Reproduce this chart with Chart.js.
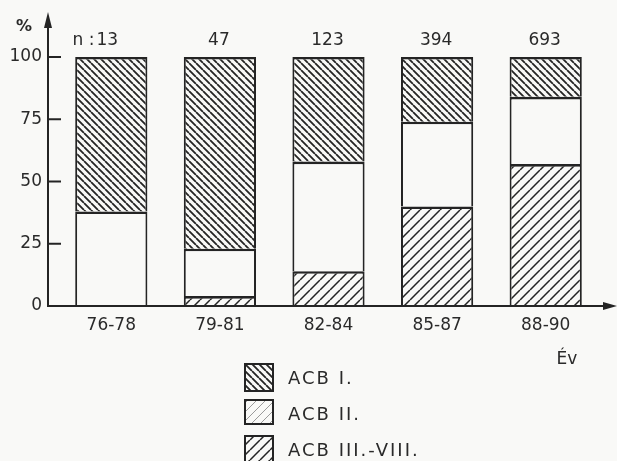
<!DOCTYPE html>
<html>
<head>
<meta charset="utf-8">
<script src="https://cdn.jsdelivr.net/npm/chart.js@4/dist/chart.umd.min.js"></script>
<style>
  html, body { margin: 0; padding: 0; background: #f9f9f7; }
  #c { display: block; }
</style>
</head>
<body>
<canvas id="c" width="617" height="461"></canvas>
<script>
// Periods on the x axis
const periods = ['76-78', '79-81', '82-84', '85-87', '88-90'];
// Number of cases in each period (printed above the bars)
const nCounts = ['13', '47', '123', '394', '693'];
// Share of each ACB group, % (stacked bottom to top: III.-VIII., II., I.)
const acb3to8 = [0, 4, 14, 40, 57];
const acb2 = [38, 19, 44, 34, 27];
const acb1 = [62, 77, 42, 26, 16];
// Y axis ticks
const yTicks = [0, 25, 50, 75, 100];

const INK = '#242424';
const TXT = '#2a2a2a';
const BG = '#f9f9f7';
const FONT = '"DejaVu Sans", sans-serif';

function hatch(step, dir, lw, color, bg) {
  const t = document.createElement('canvas');
  t.width = step; t.height = step;
  const g = t.getContext('2d');
  g.fillStyle = bg; g.fillRect(0, 0, step, step);
  g.strokeStyle = color; g.lineWidth = lw;
  g.beginPath();
  if (dir === 'back') {
    for (let k = -1; k <= 1; k++) { g.moveTo(k * step, 0); g.lineTo(k * step + step, step); }
  } else {
    for (let k = -1; k <= 1; k++) { g.moveTo(k * step, step); g.lineTo(k * step + step, 0); }
  }
  g.stroke();
  return g.createPattern(t, 'repeat');
}

const ctx0 = document.getElementById('c').getContext('2d');
const patDense = hatch(7, 'back', 1.8, INK, BG);
const patWide = hatch(10, 'fwd', 1.5, INK, BG);
const patFaint = hatch(9, 'fwd', 1, '#9a9a9a', BG);

const axesPlugin = {
  id: 'axesAndNotes',
  beforeDraw(chart) {
    const c = chart.ctx;
    c.save();
    c.fillStyle = BG;
    c.fillRect(0, 0, chart.width, chart.height);
    c.restore();
  },
  afterDatasetsDraw(chart) {
    const c = chart.ctx;
    const ys = chart.scales.y, xs = chart.scales.x;
    const y0 = ys.getPixelForValue(0);
    const axX = 48;
    c.save();
    c.strokeStyle = INK; c.fillStyle = INK; c.lineWidth = 2;
    // y axis with arrow
    c.beginPath(); c.moveTo(axX, y0 + 1); c.lineTo(axX, 24); c.stroke();
    c.beginPath(); c.moveTo(axX, 12); c.lineTo(axX - 4, 28); c.lineTo(axX + 4, 28); c.closePath(); c.fill();
    // x axis with arrow
    c.beginPath(); c.moveTo(axX, y0); c.lineTo(606, y0); c.stroke();
    c.beginPath(); c.moveTo(617, y0); c.lineTo(603, y0 - 4); c.lineTo(603, y0 + 4); c.closePath(); c.fill();
    // tick marks pointing into the plot
    yTicks.forEach(v => {
      const py = ys.getPixelForValue(v);
      c.beginPath(); c.moveTo(axX, py); c.lineTo(61, py); c.stroke();
    });
    // case counts above bars
    c.font = '17px ' + FONT;
    c.textBaseline = 'middle';
    c.fillStyle = TXT;
    periods.forEach((p, i) => {
      const cx = xs.getPixelForValue(i) - (i === 0 ? 4 : 1);
      c.textAlign = 'center';
      c.fillText(nCounts[i], cx, 41);
      if (i === 0) {
        const w = c.measureText(nCounts[i]).width;
        c.textAlign = 'right';
        c.fillText('n :', cx - w / 2 - 2, 41);
      }
    });
    // axis titles
    c.textAlign = 'center';
    c.font = 'bold 16px ' + FONT;
    c.fillText('%', 24, 27);
    c.font = '17px ' + FONT;
    c.fillText('Év', 567, 360);
    // legend
    const items = [
      { label: chart.data.datasets[2].label, fill: patDense, y: 364, h: 27, ty: 379 },
      { label: chart.data.datasets[1].label, fill: patFaint, y: 400, h: 24, ty: 415 },
      { label: chart.data.datasets[0].label, fill: patWide, y: 436, h: 27, ty: 451 }
    ];
    items.forEach(it => {
      c.fillStyle = it.fill;
      c.fillRect(245, it.y, 28, it.h);
      c.lineWidth = 2; c.strokeStyle = INK;
      c.strokeRect(245, it.y, 28, it.h);
      c.fillStyle = TXT;
      c.textAlign = 'left';
      c.font = '18px ' + FONT;
      c.letterSpacing = '2px';
      c.fillText(it.label, 288, it.ty);
      c.letterSpacing = '0px';
    });
    c.restore();
  }
};

new Chart(ctx0, {
  type: 'bar',
  data: {
    labels: periods,
    datasets: [
      { label: 'ACB III.-VIII.', data: acb3to8, backgroundColor: patWide },
      { label: 'ACB II.', data: acb2, backgroundColor: BG },
      { label: 'ACB I.', data: acb1, backgroundColor: patDense }
    ].map(d => Object.assign(d, {
      borderColor: INK,
      borderWidth: { top: 2.6, left: 2, right: 2, bottom: 0 },
      borderSkipped: false,
      inflateAmount: 0,
      barPercentage: 0.665, categoryPercentage: 1
    }))
  },
  options: {
    responsive: false,
    animation: false,
    layout: { padding: { top: 57, right: 17, left: 0, bottom: 0 } },
    plugins: { legend: { display: false }, tooltip: { enabled: false } },
    scales: {
      x: {
        stacked: true,
        grid: { display: false, drawTicks: false },
        border: { display: false },
        ticks: { padding: 9, color: TXT, font: { family: FONT, size: 17 } },
        afterFit(s) { s.height = 155; s.paddingLeft = 0; s.paddingRight = 0; }
      },
      y: {
        stacked: true, min: 0, max: 100,
        afterBuildTicks(s) { s.ticks = yTicks.map(v => ({ value: v })); },
        grid: { display: false, drawTicks: false },
        border: { display: false },
        ticks: { padding: 15, color: TXT, font: { family: FONT, size: 17 } },
        afterFit(s) { s.width = 57; s.paddingTop = 0; s.paddingBottom = 0; }
      }
    }
  },
  plugins: [axesPlugin]
});
</script>
</body>
</html>
